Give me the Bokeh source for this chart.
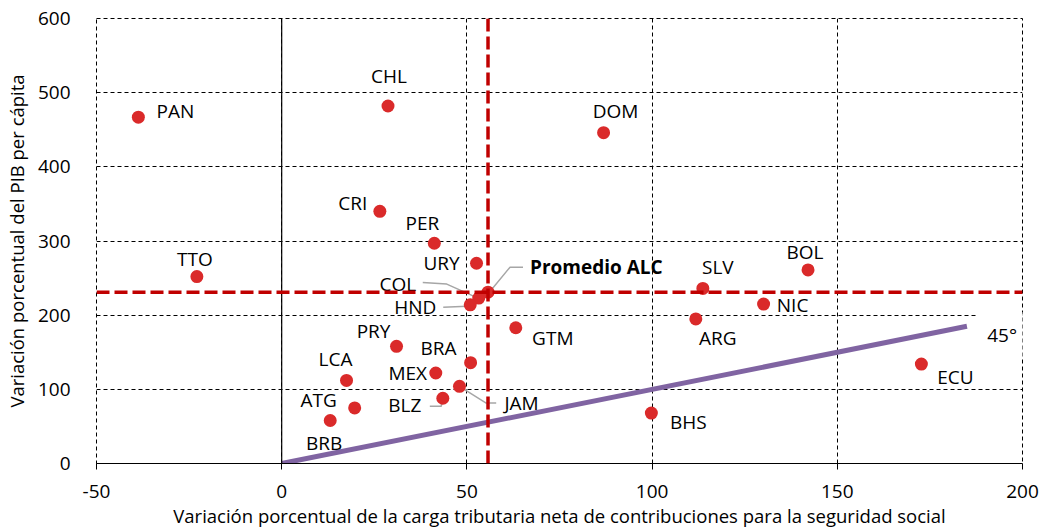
from bokeh.plotting import figure
from bokeh.models import ColumnDataSource, Span, Label, FixedTicker, Range1d
from bokeh.core.properties import value
from bokeh.embed import file_html
from bokeh.resources import INLINE

# ---------------- data ----------------
countries = ["PAN", "CHL", "DOM", "CRI", "PER", "TTO", "URY", "COL", "HND", "GTM",
             "BRA", "MEX", "JAM", "BLZ", "PRY", "LCA", "ATG", "BRB", "SLV", "BOL",
             "NIC", "ARG", "ECU", "BHS"]
tax_change = [-38.7, 28.7, 86.9, 26.5, 41.2, -22.9, 52.6, 53.2, 50.9, 63.2,
              51.0, 41.6, 48.0, 43.5, 31.0, 17.5, 19.7, 13.1, 113.7, 142.1,
              130.1, 111.8, 172.7, 99.8]
gdp_change = [467, 482, 446, 340, 297, 252, 270, 223, 214, 183,
              136, 122, 104, 88, 158, 112, 75, 58, 236, 261,
              215, 195, 134, 68]
avg_name = "Promedio ALC"
avg_x = 55.7
avg_y = 231
line45 = [0, 185]
x_ticks = [-50, 0, 50, 100, 150, 200]
x_tick_labels = ["-50", "0", "50", "100", "150", "200"]
y_ticks = [0, 100, 200, 300, 400, 500, 600]

# label placement (screen px offsets from point; styles, not data)
lab_dx = [37, 1, 12, -27, -12, -2, -35, -81, -55, 37,
          -32, -28, 62, -38, -23, -11, -36, -6, 15, -3,
          29, 22, 34, 37]
lab_dy = [-6, -30, -22, -8, -20, -18, 0, -14, 2, 10,
          -15, 0, 17, 7, -15, -21, -8, 23, -21, -18,
          1, 19, 13, 9]
# leader lines: country -> list of px offsets from point
leaders = {
    "COL": [(-3, -1), (-32, -14), (-56, -15.5)],
    "HND": [(-3, 1.4), (-27, 2.4)],
    "BLZ": [(0, 0.6), (-1.6, 8), (-13, 8)],
    "JAM": [(0, 0), (26.7, 16.7), (36.7, 16.7)],
}
avg_leader = [(3, -2), (22, -25), (35, -25)]

FONT = "Open Sans"
FS = "19px"
TFS = "18.5px"

W, H = 1043, 531
ML, MR, MT, MB = 96, 21, 18, 68
fw = W - ML - MR
fh = H - MT - MB
xr = (-50, 200)
yr = (0, 600)
sx = fw / (xr[1] - xr[0])
sy = fh / (yr[1] - yr[0])

p = figure(width=W, height=H, output_backend="svg", toolbar_location=None,
           x_range=Range1d(*xr), y_range=Range1d(*yr),
           min_border_left=ML, min_border_right=MR, min_border_top=MT, min_border_bottom=MB)
p.outline_line_color = "black"
p.outline_line_dash = "4 3"
p.outline_line_width = 1
p.background_fill_color = "white"

# grids
for g, t in ((p.xgrid, x_ticks), (p.ygrid, y_ticks)):
    g.ticker = FixedTicker(ticks=t)
    g.grid_line_color = "black"
    g.grid_line_dash = "4 3"
    g.grid_line_width = 1

# axes
p.xaxis.ticker = FixedTicker(ticks=x_ticks)
p.xaxis.major_label_overrides = {t: s for t, s in zip(x_ticks, x_tick_labels)}
p.yaxis.ticker = FixedTicker(ticks=y_ticks)
p.xaxis.axis_line_color = "black"
p.xaxis.axis_line_width = 1.2
p.xaxis.major_tick_out = 6
p.xaxis.major_tick_in = 0
p.xaxis.major_tick_line_color = "black"
p.xaxis.minor_tick_line_color = None
p.xaxis.major_label_standoff = 15
p.xaxis.axis_label = "Variación porcentual de la carga tributaria neta de contribuciones para la seguridad social"
p.xaxis.axis_label_standoff = 2
p.yaxis.axis_line_color = None
p.yaxis.major_tick_line_color = None
p.yaxis.minor_tick_line_color = None
p.yaxis.major_label_standoff = 20
p.yaxis.axis_label = "Variación porcentual del PIB per cápita"
p.yaxis.axis_label_standoff = 6
for ax in (p.xaxis, p.yaxis):
    ax.major_label_text_font = FONT
    ax.major_label_text_font_size = FS
    ax.major_label_text_color = "black"
    ax.axis_label_text_font = FONT
    ax.axis_label_text_font_size = TFS
    ax.axis_label_text_font_style = "normal"
    ax.axis_label_text_color = "black"

# vertical axis line at x=0
p.add_layout(Span(location=0, dimension="height", line_color="black", line_width=1.2))

# average lines
p.add_layout(Span(location=avg_x, dimension="height", line_color="#C00000",
                  line_width=3.5, line_dash="13 5"))
p.add_layout(Span(location=avg_y, dimension="width", line_color="#C00000",
                  line_width=3.5, line_dash="13 5"))

# 45 degree line
p.line(line45, line45, line_color="#8064A2", line_width=5)

# leader lines
xs, ys = [], []
pos = {c: (x, y) for c, x, y in zip(countries, tax_change, gdp_change)}
for c, offs in leaders.items():
    x0, y0 = pos[c]
    xs.append([x0 + dx / sx for dx, dy in offs])
    ys.append([y0 - dy / sy for dx, dy in offs])
xs.append([avg_x + dx / sx for dx, dy in avg_leader])
ys.append([avg_y - dy / sy for dx, dy in avg_leader])
p.multi_line(xs, ys, line_color="#A6A6A6", line_width=1.5)

# points
src = ColumnDataSource(dict(
    x=tax_change, y=gdp_change, name=countries,
    lx=[x + dx / sx for x, dx in zip(tax_change, lab_dx)],
    ly=[y - dy / sy for y, dy in zip(gdp_change, lab_dy)],
))
p.scatter("x", "y", source=src, size=13, fill_color="#DA2A2A", line_color=None)
p.scatter([avg_x], [avg_y], size=13, fill_color="#DA2A2A", line_color=None)

p.text("lx", "ly", text="name", source=src, text_font=value(FONT), text_font_size=FS,
       text_color="black", text_align="center", text_baseline="middle")
p.text([avg_x + 42 / sx], [avg_y + 25 / sy], text=[avg_name], text_font=value(FONT),
       text_font_size=FS, text_font_style="bold", text_color="black",
       text_align="left", text_baseline="middle")

# 45 degree label with white box
p.add_layout(Label(x=line45[1] + 9.5, y=line45[1] - 12, text="45°", text_font=FONT,
                   text_font_size=FS, text_color="black", text_align="center",
                   text_baseline="middle", background_fill_color="white",
                   padding=10))

open("out.html", "w").write(file_html(p, INLINE))
